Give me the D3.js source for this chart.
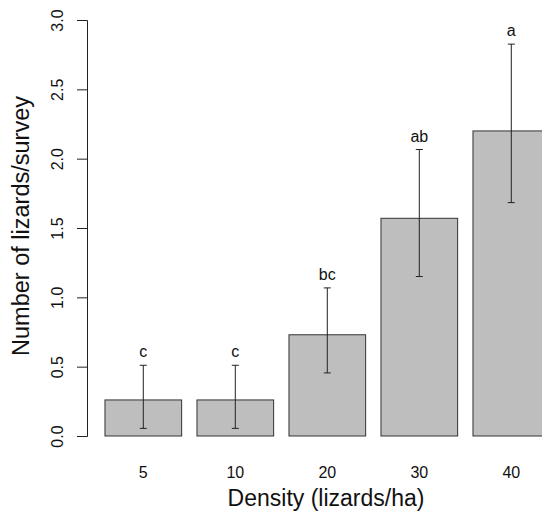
<!DOCTYPE html>
<html><head><meta charset="utf-8">
<script src="https://cdn.jsdelivr.net/npm/d3@7"></script>
<style>body{margin:0;background:#fff}svg{display:block}text{font-family:"Liberation Sans",Arial,sans-serif;fill:#111}</style>
</head><body>
<script>
const categories = ["5","10","20","30","40"];
const means = [0.26, 0.26, 0.73, 1.57, 2.20];
const lower = [0.055, 0.055, 0.455, 1.15, 1.683];
const upper = [0.51, 0.51, 1.068, 2.066, 2.826];
const letters = ["c","c","bc","ab","a"];
const yTicks = [0, 0.5, 1.0, 1.5, 2.0, 2.5, 3.0];

const W = 542, H = 514;
const svg = d3.select("body").append("svg").attr("width", W).attr("height", H);

const y = d3.scaleLinear().domain([0, 3]).range([436, 20]);
const x = d3.scaleBand().domain(categories).range([97.3, 557.3]).paddingInner(0.2/1.2).paddingOuter(0.1/1.2);

const g = svg.append("g");
g.selectAll("rect.bar").data(categories).join("rect")
  .attr("x", d => x(d)).attr("y", (d,i) => y(means[i]))
  .attr("width", x.bandwidth()).attr("height", (d,i) => y(0) - y(means[i]))
  .attr("fill", "#bebebe").attr("stroke", "#333").attr("stroke-width", 1);

const cx = d => x(d) + x.bandwidth()/2;
const eb = g.selectAll("g.eb").data(categories).join("g").attr("stroke", "#222").attr("stroke-width", 1);
eb.append("line").attr("x1", cx).attr("x2", cx).attr("y1", (d,i)=>y(lower[i])).attr("y2", (d,i)=>y(upper[i]));
eb.append("line").attr("x1", d=>cx(d)-3.5).attr("x2", d=>cx(d)+3.5).attr("y1", (d,i)=>y(upper[i])).attr("y2", (d,i)=>y(upper[i]));
eb.append("line").attr("x1", d=>cx(d)-3.5).attr("x2", d=>cx(d)+3.5).attr("y1", (d,i)=>y(lower[i])).attr("y2", (d,i)=>y(lower[i]));

g.selectAll("text.let").data(categories).join("text")
  .attr("x", cx).attr("y", (d,i)=>y(upper[i]) - 8)
  .attr("text-anchor", "middle").attr("font-size", 16).text((d,i)=>letters[i]);

// y axis
const ya = svg.append("g").attr("transform", "translate(87,0)")
  .call(d3.axisLeft(y).tickValues(yTicks).tickFormat(d3.format(".1f")).tickSizeOuter(0).tickSize(10));
ya.select(".domain").attr("stroke", "#222");
ya.selectAll(".tick line").attr("stroke", "#222");
ya.selectAll(".tick text").attr("font-size", 16).attr("fill", "#111")
  .attr("font-family", "Liberation Sans, Arial, sans-serif")
  .attr("transform", "rotate(-90)").attr("text-anchor", "middle").attr("x", 0).attr("y", -24).attr("dy", null);

// x tick labels
svg.selectAll("text.xt").data(categories).join("text")
  .attr("x", cx).attr("y", 478).attr("text-anchor", "middle").attr("font-size", 16).text(d=>d);

svg.append("text").attr("x", 326).attr("y", 506).attr("text-anchor", "middle")
  .attr("font-size", 23).text("Density (lizards/ha)");
svg.append("text").attr("transform", "translate(29,226) rotate(-90)").attr("text-anchor", "middle")
  .attr("font-size", 23.5).text("Number of lizards/survey");
</script>
</body></html>
